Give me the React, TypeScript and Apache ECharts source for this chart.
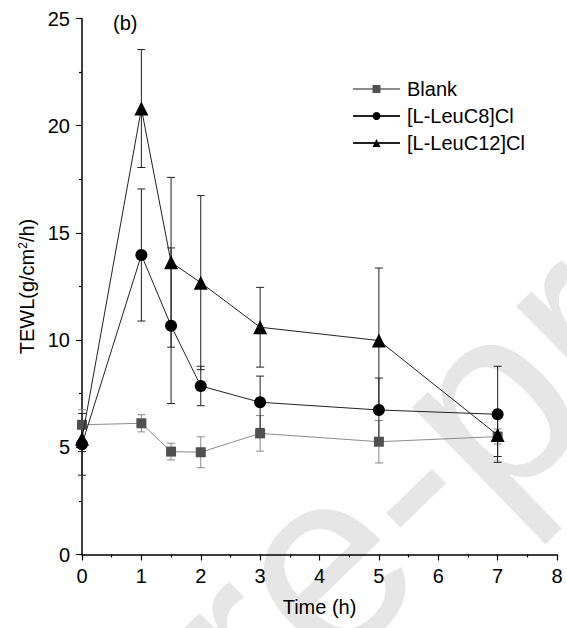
import React, { useEffect, useRef } from "react";
import * as echarts from "echarts";

const times = [0, 1, 1.5, 2, 3, 5, 7];
const blank = [6.05, 6.12, 4.8, 4.77, 5.65, 5.26, 5.5];
const blankErr = [0.7, 0.4, 0.39, 0.72, 0.83, 0.99, 0.35];
const c8 = [5.14, 13.97, 10.67, 7.86, 7.1, 6.74, 6.54];
const c8Err = [1.44, 3.08, 3.63, 0.92, 1.22, 1.49, 2.24];
const c12 = [5.4, 20.8, 13.63, 12.68, 10.6, 9.98, 5.57];
const c12Err = [0.6, 2.75, 3.96, 4.06, 1.86, 3.38, 1.0];
const seriesNames = ["Blank", "[L-LeuC8]Cl", "[L-LeuC12]Cl"];

const FONT = "Liberation Sans, Arial, sans-serif";

function pairs(vals: number[]) {
  return times.map((t, i) => [t, vals[i]]);
}
function errData(vals: number[], errs: number[]) {
  return times.map((t, i) => [t, vals[i] - errs[i], vals[i] + errs[i]]);
}
function errSeries(name: string, vals: number[], errs: number[], color: string) {
  return {
    type: "custom",
    name,
    z: 1,
    data: errData(vals, errs),
    encode: { x: 0, y: [1, 2] },
    renderItem: (params: any, api: any) => {
      const x = api.value(0);
      const top = api.coord([x, api.value(2)]);
      const bot = api.coord([x, api.value(1)]);
      const w = 4;
      const st = { stroke: color, lineWidth: 1 };
      return {
        type: "group",
        children: [
          { type: "line", shape: { x1: top[0], y1: top[1], x2: bot[0], y2: bot[1] }, style: st },
          { type: "line", shape: { x1: top[0] - w, y1: top[1], x2: top[0] + w, y2: top[1] }, style: st },
          { type: "line", shape: { x1: bot[0] - w, y1: bot[1], x2: bot[0] + w, y2: bot[1] }, style: st },
        ],
      };
    },
  };
}

export default function App() {
  const ref = useRef<HTMLDivElement>(null);
  useEffect(() => {
    if (!ref.current) return;
    const chart = echarts.init(ref.current, undefined, { renderer: "svg" });
    chart.setOption({
      animation: false,
      backgroundColor: "#fff",
      textStyle: { fontFamily: FONT },
      grid: { left: 82, right: 10, top: 18.5, bottom: 73.5, containLabel: false },
      graphic: [
        {
          type: "text",
          z: -10,
          x: 80,
          y: 795,
          rotation: 0.77,
          silent: true,
          style: {
            text: "Pre-proof",
            fill: "#e6e6e6",
            font: "260px Liberation Sans",
            textAlign: "left",
            textVerticalAlign: "middle",
          },
        },
        {
          type: "text",
          x: 113,
          y: 23,
          style: {
            text: "(b)",
            fill: "#000",
            font: "20px Liberation Sans",
            textVerticalAlign: "middle",
          },
        },
      ],
      legend: {
        data: seriesNames,
        orient: "vertical",
        left: 352,
        top: 79,
        padding: 0,
        itemWidth: 47,
        itemHeight: 10,
        itemGap: 7,
        textStyle: { fontSize: 20, color: "#000", fontFamily: FONT, padding: [0, 0, 0, 2] },
      },
      xAxis: {
        type: "value",
        min: 0,
        max: 8,
        interval: 1,
        name: "Time (h)",
        nameLocation: "middle",
        nameGap: 42,
        nameTextStyle: { fontSize: 20, color: "#000", fontFamily: FONT },
        axisLine: { show: true, lineStyle: { color: "#000", width: 1.5 } },
        axisTick: { show: true, inside: false, length: 6, lineStyle: { color: "#000", width: 1.2 } },
        minorTick: { show: true, splitNumber: 2, length: 3, lineStyle: { color: "#000", width: 1.2 } },
        axisLabel: { fontSize: 20, color: "#000", margin: 11, fontFamily: FONT },
        splitLine: { show: false },
      },
      yAxis: {
        type: "value",
        min: 0,
        max: 25,
        interval: 5,
        name: "{a|TEWL(g/cm}{s|2}{a|/h)}",
        nameLocation: "middle",
        nameGap: 41,
        nameTextStyle: {
          color: "#000",
          fontFamily: FONT,
          rich: {
            a: { fontSize: 20, fontFamily: FONT, color: "#000" },
            s: { fontSize: 12, fontFamily: FONT, color: "#000", verticalAlign: "top", padding: [0, 0, 8, 0] },
          },
        },
        axisLine: { show: true, lineStyle: { color: "#000", width: 1.5 } },
        axisTick: { show: true, inside: false, length: 6, lineStyle: { color: "#000", width: 1.2 } },
        minorTick: { show: true, splitNumber: 2, length: 3, lineStyle: { color: "#000", width: 1.2 } },
        axisLabel: { fontSize: 20, color: "#000", margin: 12, fontFamily: FONT },
        splitLine: { show: false },
      },
      series: [
        errSeries("errBlank", blank, blankErr, "#8a8a8a"),
        errSeries("errC8", c8, c8Err, "#222"),
        errSeries("errC12", c12, c12Err, "#222"),
        {
          type: "line",
          name: seriesNames[0],
          data: pairs(blank),
          symbol: "rect",
          symbolSize: 10,
          z: 3,
          lineStyle: { color: "#8c8c8c", width: 1 },
          itemStyle: { color: "#505050" },
        },
        {
          type: "line",
          name: seriesNames[1],
          data: pairs(c8),
          symbol: "circle",
          symbolSize: 12,
          z: 4,
          lineStyle: { color: "#222", width: 1 },
          itemStyle: { color: "#000" },
        },
        {
          type: "line",
          name: seriesNames[2],
          data: pairs(c12),
          symbol: "triangle",
          symbolSize: 14,
          z: 5,
          lineStyle: { color: "#222", width: 1 },
          itemStyle: { color: "#000" },
        },
      ],
    });
    return () => chart.dispose();
  }, []);
  return <div ref={ref} style={{ width: 567, height: 628, position: "absolute", left: 0, top: 0 }} />;
}
